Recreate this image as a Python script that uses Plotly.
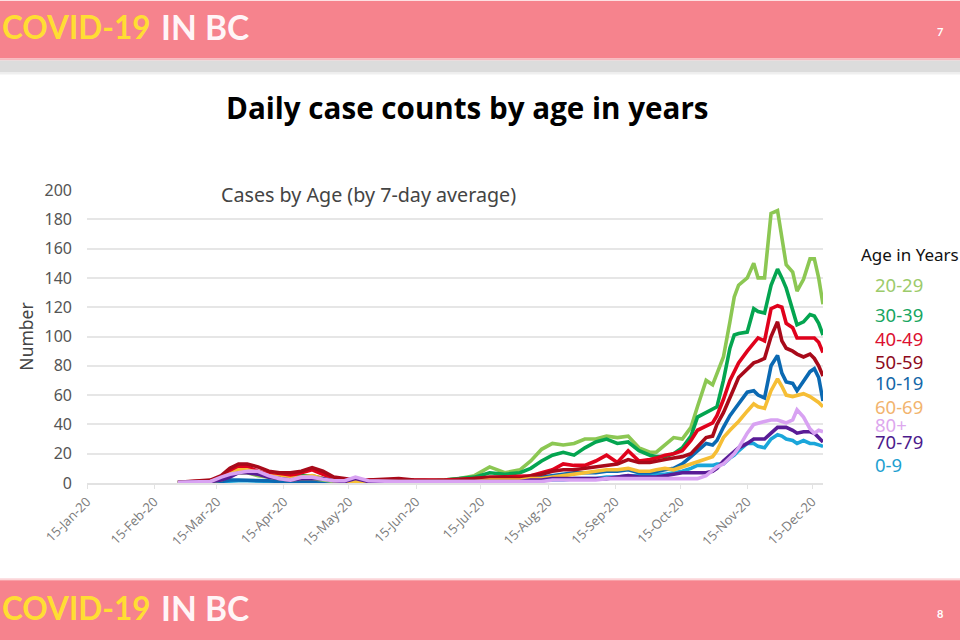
import plotly.graph_objects as go

dates = ["2020-02-26","2020-03-05","2020-03-12","2020-03-17","2020-03-21","2020-03-25","2020-03-29","2020-04-03","2020-04-08",
         "2020-04-13","2020-04-18","2020-04-23","2020-04-28","2020-05-03","2020-05-08","2020-05-13","2020-05-18","2020-05-24","2020-05-31",
         "2020-06-07","2020-06-14","2020-06-21","2020-06-28","2020-07-05","2020-07-12","2020-07-19","2020-07-26",
         "2020-08-02","2020-08-07","2020-08-12","2020-08-17","2020-08-22","2020-08-27","2020-09-01","2020-09-06","2020-09-11",
         "2020-09-16","2020-09-21","2020-09-26","2020-10-01",
         "2020-10-04","2020-10-08","2020-10-12","2020-10-16","2020-10-20","2020-10-23","2020-10-27","2020-10-30","2020-11-01",
         "2020-11-04","2020-11-07","2020-11-09","2020-11-11","2020-11-15","2020-11-18","2020-11-20","2020-11-23","2020-11-26",
         "2020-11-29","2020-12-01","2020-12-03","2020-12-06","2020-12-08","2020-12-11","2020-12-14","2020-12-16","2020-12-18","2020-12-20"]

age_0_9 = [.3,.3,.3,1,1.5,1.5,1.5,1.5,1,1,.5,.5,.5,.5,.5,.5,.5,.5,.5,.5,.5,.5,.5,.5,.5,1,1,
           1,1,2,2,2,3,3,3,4,4,5,5,5,
           6,6,7,8,10,12,12,12,13,13,17,19,22,27,27,25,24,30,33,32,30,29,27,29,27,27,26,25]
age_10_19 = [.3,.3,.3,1,2,2,2,2,1.5,1,1,1,1,1,.5,.5,.5,.5,.5,.5,.5,1,1,1,1,2,2,
             2,3,4,5,6,7,7,7,8,8,9,7,7,
             8,9,10,13,18,22,27,26,29,38,46,50,54,62,63,60,58,80,87,75,69,68,63,69,76,78,72,56]
age_20_29 = [.5,.5,1,2,5,7,7,5,4,3,2,3,3,2,1,1,1,1,1,1,1,1,2,3,5,11,7,
             9,15,23,27,26,27,30,30,32,31,32,24,21,
             21,26,31,30,38,52,70,67,75,86,110,127,135,140,150,140,140,184,186,168,149,144,131,139,153,153,140,122]
age_30_39 = [.5,.5,1,3,7,10,9,7,5,4,4,5,5,3,1.5,1,1,1.5,1.5,1.5,1,1.5,2,3,4,7,6,
             7,10,15,19,21,19,24,28,30,27,28,22,19,
             18,18,20,24,32,45,48,50,52,70,92,101,102,103,119,117,116,135,146,140,133,118,108,110,115,114,109,101]
age_40_49 = [.5,1,1.5,4,8,11,11,8,6,5,5,7,9,6,3,2,1.5,2,2,2,1.5,1.5,2,2.5,3,4,4,
             5,5,7,9,13,12,12,15,19,14,22,15,16,
             17,19,20,22,29,36,39,41,46,57,70,76,82,90,96,99,97,119,121,120,109,106,99,99,99,99,96,89]
age_50_59 = [.5,1.5,2,5,10,13,13,11,8,7,7,8,10.5,8,4,3,2,2,2.5,3,2,1.5,1.5,2,3,4,4,
             3,5,6,8,9,9,10,11,12,13,16,14,14,
             15,16,17,18,20,25,31,32,40,48,59,65,72,78,82,83,85,100,110,97,92,90,88,86,88,85,80,73]
age_60_69 = [.5,.5,1,3,6,9,9,7,5,4,3,4,5,3,1.5,1,1,1,1,1,1,1,1,1,1,2,2,
             2,3,3,4,5,6,7,8,9,9,10,8,8,
             9,10,9,11,13,14,16,18,22,31,36,39,42,49,54,52,51,63,71,66,60,59,60,61,59,57,55,52]
age_70_79 = [.5,.5,1,2,4,7,7,6,4,3,2,3,3,3,1.5,1,3,1,1,1,1,1,1,1,1,1,1,
             1,2,2,3,3,3,3,3,3,4,5,4,4,
             4,5,6,7,7,7,7,8,10,15,19,22,24,27,30,30,30,34,38,38,38,36,34,35,35,34,31,28]
age_80 = [.5,.5,1,4,6,7,8,8,5,3,2,4,4,2.5,1.5,1.5,4,1.5,1,1,1,1,1,1,1,1,1,
          1,1,1,2,2,2,2,2,3,3,3,3,3,
          3,3,3,3,3,3,5,9,11,13,17,20,24,34,40,41,42,43,43,42,41,43,50,45,37,34,36,35]

series_names = ["0-9","10-19","20-29","30-39","40-49","50-59","60-69","70-79","80+"]
series_values = [age_0_9,age_10_19,age_20_29,age_30_39,age_40_49,age_50_59,age_60_69,age_70_79,age_80]
line_colors = ["#1BA6DA","#0B69B2","#8CC753","#04A550","#E0021C","#A80A1A","#F6BE35","#591C96","#D8A2F2"]

tick_dates = ["2020-01-15","2020-02-15","2020-03-15","2020-04-15","2020-05-15","2020-06-15",
              "2020-07-15","2020-08-15","2020-09-15","2020-10-15","2020-11-15","2020-12-15"]
tick_labels = ["15-Jan-20","15-Feb-20","15-Mar-20","15-Apr-20","15-May-20","15-Jun-20",
               "15-Jul-20","15-Aug-20","15-Sep-20","15-Oct-20","15-Nov-20","15-Dec-20"]

legend_order = ["20-29","30-39","40-49","50-59","10-19","60-69","80+","70-79","0-9"]
legend_colors = ["#9CCB6B","#18A661","#DC1030","#8E0A20","#1467A8","#F2B46E","#DDA8EE","#4C1A8C","#1E9FD0"]
legend_y = [284,314,338,361,382,406,424,441,464]

W, H = 960, 640
L, R, T, B = 87, 823, 189.5, 482.7
def px(x): return (x - L) / (R - L)
def py(y): return (B - y) / (B - T)

fig = go.Figure()
for name, vals, col in zip(series_names, series_values, line_colors):
    fig.add_trace(go.Scatter(x=dates, y=vals, mode="lines", name=name,
                             line=dict(color=col, width=3.6, shape="linear")))

def band(y0, y1, col):
    return dict(type="rect", xref="paper", yref="paper", layer="below", line_width=0,
                x0=px(0), x1=px(W), y0=py(y1), y1=py(y0), fillcolor=col)

shapes = [band(0,58,"#F6838D"), band(58,60,"#F5B9BE"), band(60,72,"#DCDCDC"), band(72,74,"#EFEFEF"),
          band(578,580,"#FBD5D8"), band(580,640,"#F6838D")]

def note(x, y, text, size, color, family="Noto Sans", xanchor="left", bold=False):
    return dict(xref="paper", yref="paper", x=px(x), y=py(y), text=f"<b>{text}</b>" if bold else text,
                showarrow=False, xanchor=xanchor, yanchor="middle", borderpad=0,
                font=dict(size=size, color=color, family=family))

ann = [
    note(467, 107, "Daily case counts by age in years", 29.6, "#000000", "Open Sans", "center", True),
    note(220, 194, "Cases by Age (by 7-day average)", 19.7, "#444444"),
    note(860, 254, "Age in Years", 17, "#111111"),
    note(1, 26, "COVID-19", 31.5, "#FFDD33", "Lato", "left", True),
    note(160, 26, "IN BC", 33.5, "#FFF5F7", "Lato", "left", True),
    note(940, 31, "7", 11, "#FFFFFF", "Lato", "center", True),
    note(1, 608, "COVID-19", 31.5, "#FFDD33", "Lato", "left", True),
    note(160, 608, "IN BC", 33.5, "#FFF5F7", "Lato", "left", True),
    note(940, 613, "8", 11, "#FFFFFF", "Lato", "center", True),
]
for lab, col, y in zip(legend_order, legend_colors, legend_y):
    ann.append(note(874, y, lab, 18.5, col))

fig.update_layout(
    width=W, height=H, showlegend=False,
    margin=dict(l=L, r=W-R, t=T, b=H-B, pad=0),
    paper_bgcolor="white", plot_bgcolor="white",
    shapes=shapes, annotations=ann,
    xaxis=dict(type="date", range=["2020-01-15","2020-12-20"], tickvals=tick_dates, ticktext=tick_labels,
               tickangle=-45, tickfont=dict(size=13, color="#7A7A7A", family="Open Sans"),
               showgrid=False, showline=True, linecolor="#E2E2E2", linewidth=2,
               ticks="outside", ticklen=4, tickcolor="#E2E2E2", zeroline=False),
    yaxis=dict(range=[0,200], tickvals=list(range(0,201,20)),
               tickfont=dict(size=16, color="#555555", family="Noto Sans"), ticklabelstandoff=14,
               gridcolor="#E6E6E6", gridwidth=2, zeroline=False, ticks="", ticklen=0,
               title=dict(text="Number", font=dict(size=17.5, color="#444444", family="Noto Sans"), standoff=6)),
)
fig.write_html("out.html", config=dict(displayModeBar=False), post_script="document.body.style.margin='0';")
